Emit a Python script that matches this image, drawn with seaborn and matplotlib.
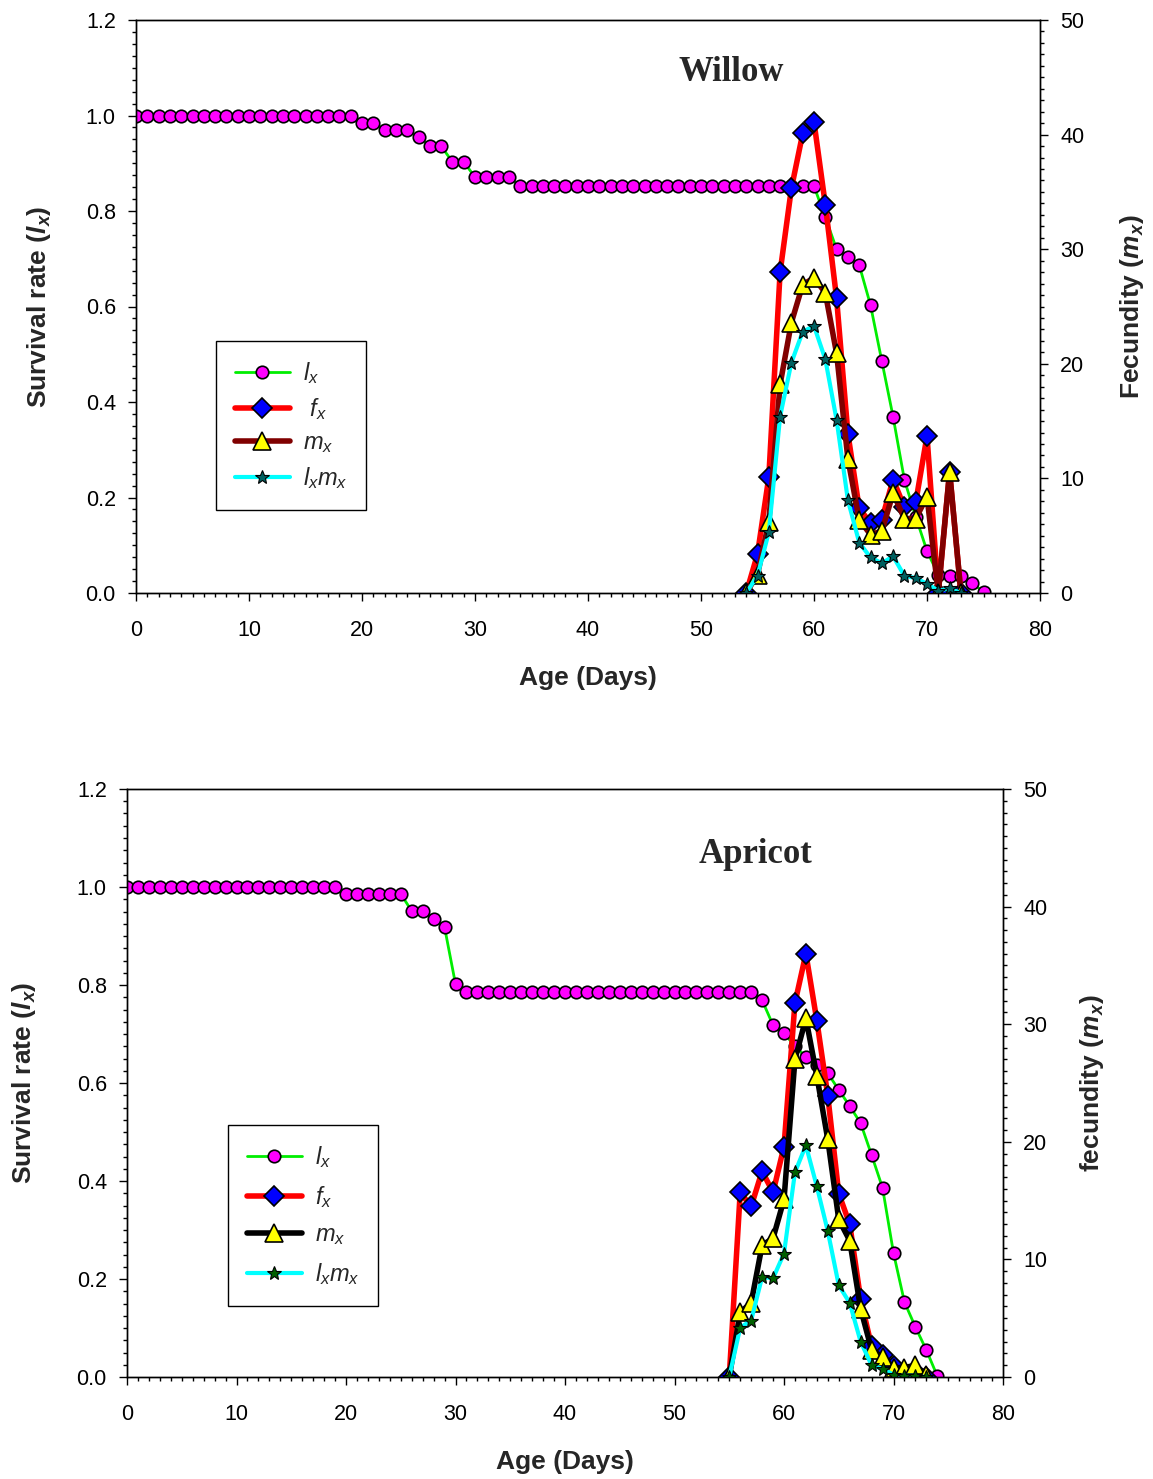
import matplotlib
matplotlib.use('Agg')
import matplotlib.pyplot as plt
import seaborn as sns
from matplotlib.ticker import MultipleLocator

# ---- Willow data ----
w_age_lx = list(range(0, 76))
w_lx = [1.0] * 20 + [0.985, 0.985, 0.970, 0.970, 0.970, 0.955, 0.936, 0.936, 0.903, 0.903,
                     0.871, 0.871, 0.871, 0.871] + [0.852] * 27 + \
       [0.787, 0.720, 0.704, 0.687, 0.603, 0.486, 0.369, 0.237, 0.160, 0.088,
        0.038, 0.036, 0.036, 0.021, 0.002]
w_age = list(range(54, 74))
w_fx = [0, 3.4, 10.1, 28.0, 35.3, 40.1, 41.1, 33.9, 25.7, 13.9,
        7.4, 6.1, 6.4, 9.9, 7.5, 7.9, 13.7, 0, 10.6, 0]
w_mx = [0, 1.6, 6.2, 18.2, 23.6, 26.9, 27.5, 26.2, 20.9, 11.7,
        6.4, 5.1, 5.4, 8.7, 6.5, 6.5, 8.4, 0, 10.6, 0]
w_lxmx = [0, 1.5, 5.3, 15.4, 20.1, 22.8, 23.3, 20.4, 15.1, 8.1,
          4.4, 3.1, 2.6, 3.2, 1.5, 1.3, 0.8, 0.2, 0.4, 0]

# ---- Apricot data ----
a_age_lx = list(range(0, 75))
a_lx = [1.0] * 20 + [0.986] * 6 + [0.951, 0.951, 0.935, 0.918, 0.802] + [0.786] * 27 + \
       [0.769, 0.718, 0.702, 0.675, 0.653, 0.637, 0.620, 0.586, 0.553, 0.518,
        0.453, 0.386, 0.253, 0.153, 0.102, 0.055, 0.002]
a_age = list(range(55, 74))
a_fx = [0, 15.7, 14.5, 17.5, 15.7, 19.6, 31.8, 36.0, 30.3, 23.9,
        15.6, 13.0, 6.6, 2.6, 1.9, 0.9, 0.3, 0.2, 0]
a_mx = [0, 5.5, 6.3, 11.2, 11.8, 15.1, 27.0, 30.5, 25.6, 20.2,
        13.4, 11.6, 5.8, 2.3, 1.7, 0.8, 0.8, 1.0, 0.2]
a_lxmx = [0, 4.2, 4.8, 8.5, 8.4, 10.5, 17.4, 19.7, 16.2, 12.4,
          7.8, 6.3, 3.0, 1.0, 0.7, 0.2, 0.1, 0.1, 0]

sns.set_theme(style='ticks')
plt.rcParams['font.family'] = ['Liberation Sans', 'DejaVu Sans']
plt.rcParams['mathtext.fontset'] = 'custom'
plt.rcParams['mathtext.rm'] = 'Liberation Sans'
plt.rcParams['mathtext.it'] = 'Liberation Sans:italic'
plt.rcParams['mathtext.bf'] = 'Liberation Sans:bold'
plt.rcParams['mathtext.bfit'] = 'Liberation Sans:bold:italic'

fig = plt.figure(figsize=(11.53, 14.79), dpi=100)


def panel(rect, title, title_xy, age_lx, lx, age, fx, mx, lxmx, mx_col, star_col,
          rlabel, leg_xy, ylab_x, fx_label, lab_space):
    ax = fig.add_axes(rect)
    ax2 = ax.twinx()
    sns.lineplot(x=age_lx, y=lx, ax=ax, color='#00ee00', lw=2, marker='o', ms=9,
                 mfc='#ff00ff', mec='black', mew=1.2, label='$l_x$', legend=False)
    sns.lineplot(x=age, y=fx, ax=ax2, color='#ff0000', lw=4, marker='D', ms=10,
                 mfc='#0000ff', mec='black', mew=1.2, label=fx_label, legend=False)
    sns.lineplot(x=age, y=mx, ax=ax2, color=mx_col, lw=4, marker='^', ms=13,
                 mfc='#ffff00', mec='black', mew=1.2, label='$m_x$', legend=False)
    sns.lineplot(x=age, y=lxmx, ax=ax2, color='#00ffff', lw=3, marker='*', ms=10,
                 mfc=star_col, mec='black', mew=0.8, label='$l_xm_x$', legend=False)
    ax.set_zorder(0)
    ax2.set_zorder(1)
    ax.set_xlim(0, 80)
    ax.set_ylim(0, 1.2)
    ax2.set_ylim(0, 50)
    ax.xaxis.set_major_locator(MultipleLocator(10))
    ax.xaxis.set_minor_locator(MultipleLocator(1))
    ax.yaxis.set_minor_locator(MultipleLocator(0.025))
    ax2.yaxis.set_major_locator(MultipleLocator(10))
    ax2.yaxis.set_minor_locator(MultipleLocator(1))
    ax.set_yticks([0, 0.2, 0.4, 0.6, 0.8, 1.0, 1.2])
    ax.set_yticklabels(['0.0', '0.2', '0.4', '0.6', '0.8', '1.0', '1.2'])
    for a in (ax, ax2):
        a.tick_params(which='major', length=5.5, width=1, colors='black',
                      labelsize=15.5, pad=9)
        a.tick_params(which='minor', length=3, width=1, colors='black')
        for s in a.spines.values():
            s.set_color('black')
            s.set_linewidth(1)
    ax.tick_params(axis='x', which='major', pad=14)
    ax.set_xlabel('Age (Days)', fontsize=19, fontweight='bold', labelpad=18)
    ax.set_ylabel(r'Survival rate ($\mathbfit{l_x}$)', fontsize=19, fontweight='bold')
    ax.yaxis.set_label_coords(ylab_x, 0.5)
    ax2.set_ylabel(rlabel, fontsize=19, fontweight='bold')
    ax2.yaxis.set_label_coords(1.086, 0.5)
    ax.text(title_xy[0], title_xy[1], title, transform=ax.transAxes, ha='center',
            va='center', fontsize=25, fontweight='bold', family='Liberation Serif')
    h1, l1 = ax.get_legend_handles_labels()
    h2, l2 = ax2.get_legend_handles_labels()
    leg = ax2.legend(h1 + h2, l1 + l2, loc='upper left', bbox_to_anchor=leg_xy,
                     fontsize=17, frameon=True, fancybox=False, edgecolor='black',
                     handlelength=2.33, handletextpad=0.55, borderpad=0.8,
                     labelspacing=lab_space, borderaxespad=0, framealpha=1)
    leg.get_frame().set_linewidth(1)
    return ax, ax2


panel([136 / 1153, 1 - 593 / 1479, 904 / 1153, 573 / 1479], 'Willow', (0.658, 0.909),
      w_age_lx, w_lx, w_age, w_fx, w_mx, w_lxmx, '#800000', '#006060',
      r'Fecundity ($\mathbfit{m_x}$)', (0.0885, 0.44), -0.092, ' $f_x$', 0.43)
panel([127 / 1153, 1 - 1377 / 1479, 876 / 1153, 588 / 1479], 'Apricot', (0.718, 0.888),
      a_age_lx, a_lx, a_age, a_fx, a_mx, a_lxmx, '#000000', '#006000',
      r'fecundity ($\mathbfit{m_x}$)', (0.115, 0.4286), -0.102, '$f_x$', 0.6)

fig.savefig('out.png', dpi=100)
